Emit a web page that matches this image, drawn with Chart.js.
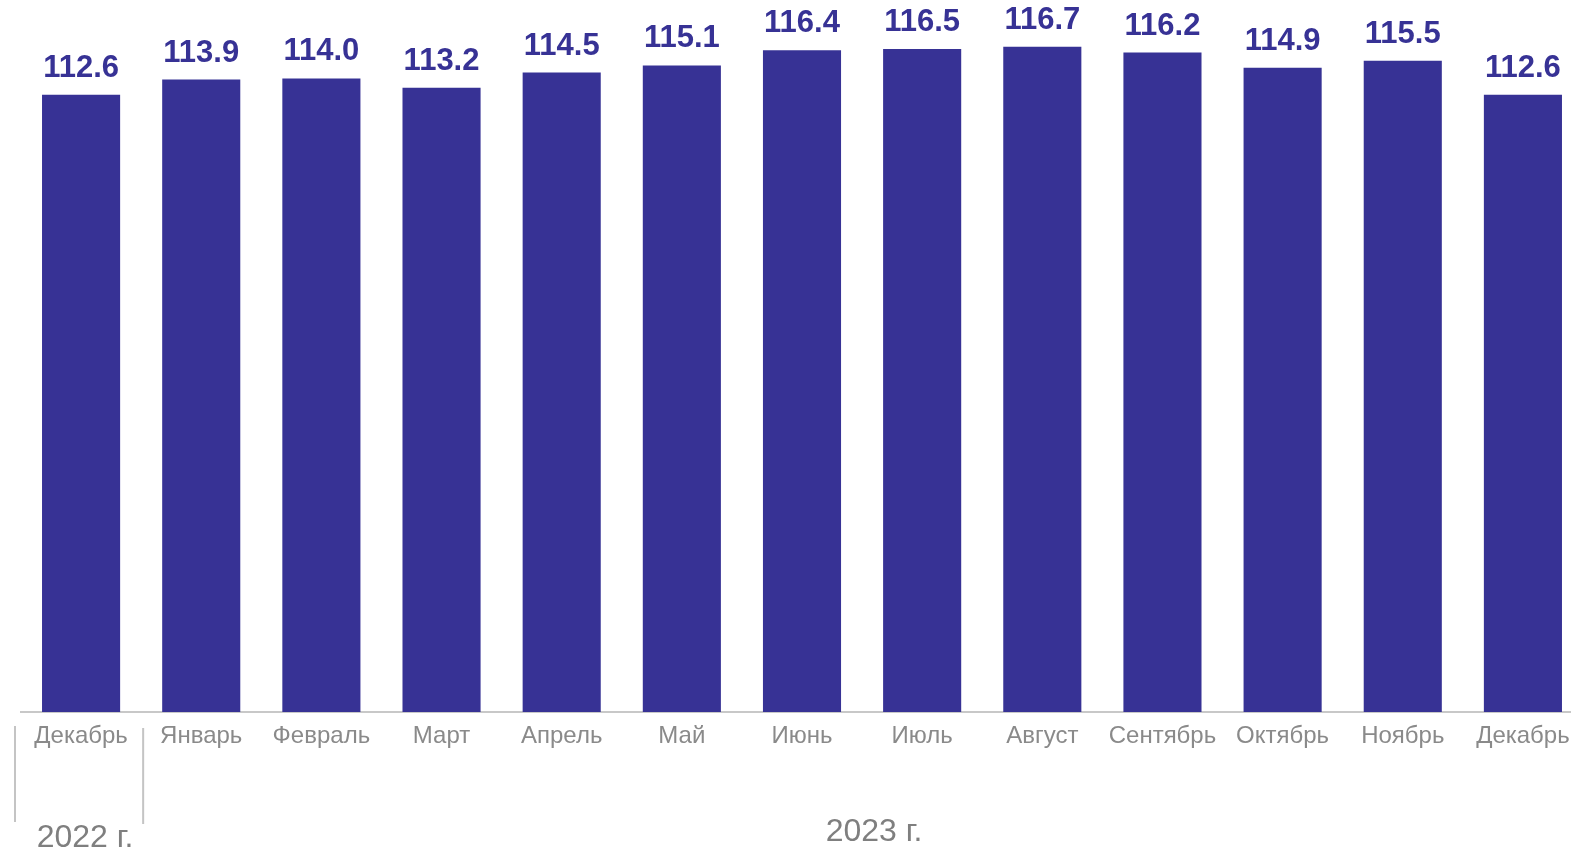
<!DOCTYPE html>
<html>
<head>
<meta charset="utf-8">
<script src="https://cdn.jsdelivr.net/npm/chart.js@4/dist/chart.umd.min.js"></script>
<style>
    html, body { margin: 0; padding: 0; overflow: hidden; background: #fff; }
    #wrap { width: 1583px; height: 853px; }
</style>
</head>
<body>
<div id="wrap"><canvas id="priceChart"></canvas></div>
<script>
// Data
const months = ['Декабрь', 'Январь', 'Февраль', 'Март', 'Апрель', 'Май', 'Июнь',
    'Июль', 'Август', 'Сентябрь', 'Октябрь', 'Ноябрь', 'Декабрь'];
const values = [112.6, 113.9, 114.0, 113.2, 114.5, 115.1, 116.4, 116.5, 116.7, 116.2, 114.9, 115.5, 112.6];
const yearLabels = ['2022 г.', '2023 г.'];

const barColor = '#373295';
const fontFamily = '"Liberation Sans", Arial, sans-serif';

// value labels above bars
const valueLabels = {
    id: 'valueLabels',
    afterDatasetsDraw(chart) {
        const ctx = chart.ctx;
        const meta = chart.getDatasetMeta(0);
        ctx.save();
        ctx.fillStyle = barColor;
        ctx.font = 'bold 31px ' + fontFamily;
        ctx.textAlign = 'center';
        ctx.textBaseline = 'alphabetic';
        meta.data.forEach((bar, i) => {
            ctx.fillText(values[i].toFixed(1), bar.x, bar.y - 18);
        });
        ctx.restore();
    }
};

// year groups under the month labels
const yearGroups = {
    id: 'yearGroups',
    afterDraw(chart) {
        const ctx = chart.ctx;
        const x = chart.scales.x;
        const step = x.getPixelForValue(1) - x.getPixelForValue(0);
        const left = x.getPixelForValue(0) - step / 2 - 6;
        const split = (x.getPixelForValue(0) + x.getPixelForValue(1)) / 2 + 2;
        ctx.save();
        ctx.strokeStyle = '#c4c4c4';
        ctx.lineWidth = 2;
        ctx.beginPath();
        ctx.moveTo(left, 726);
        ctx.lineTo(left, 822);
        ctx.moveTo(split, 728);
        ctx.lineTo(split, 824);
        ctx.stroke();

        ctx.fillStyle = '#7f7f7f';
        ctx.font = '32px ' + fontFamily;
        ctx.textAlign = 'center';
        ctx.textBaseline = 'middle';
        ctx.fillText(yearLabels[0], x.getPixelForValue(0) + 4, 838);
        const mid = (x.getPixelForValue(1) + x.getPixelForValue(months.length - 1)) / 2;
        ctx.fillText(yearLabels[1], mid + 12, 832);
        ctx.restore();
    }
};

const ctx = document.getElementById('priceChart').getContext('2d');

new Chart(ctx, {
    type: 'bar',
    data: {
        labels: months,
        datasets: [{
            data: values,
            backgroundColor: barColor,
            barPercentage: 0.65,
            categoryPercentage: 1.0
        }]
    },
    options: {
        responsive: true,
        maintainAspectRatio: false,
        animation: false,
        layout: {
            padding: { top: 8, left: 21, right: 0, bottom: 0 }
        },
        plugins: {
            legend: { display: false },
            tooltip: { enabled: false }
        },
        scales: {
            y: {
                display: false,
                min: 60,
                max: 120
            },
            x: {
                afterFit(scale) { scale.height = 141; },
                grid: { display: false, drawTicks: false },
                border: { display: true, color: '#c8c8c8', width: 2 },
                ticks: {
                    color: '#8a8a8a',
                    padding: 10,
                    autoSkip: false,
                    maxRotation: 0,
                    font: { family: fontFamily, size: 24 }
                }
            }
        }
    },
    plugins: [valueLabels, yearGroups]
});
</script>
</body>
</html>
